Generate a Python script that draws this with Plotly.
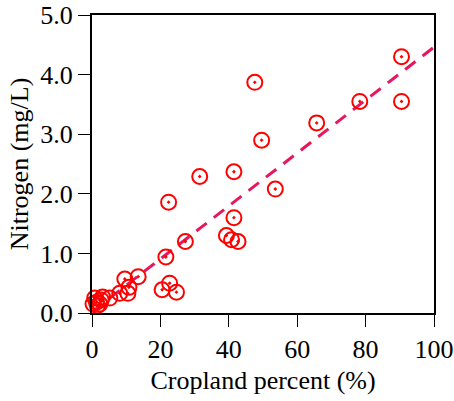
import plotly.graph_objects as go

# Cropland percent (%) and Nitrogen (mg/L)
cropland = [-0.2, 0.3, 0.8, 1.3, 1.6, 2.3, 2.7, 3.1, 5.2,
            8.1, 9.6, 10.5, 10.8, 13.5,
            20.5, 22.7, 24.7, 21.6, 22.4, 27.3, 31.5,
            39.3, 40.8, 42.7, 41.5, 41.5,
            47.6, 49.6, 53.6, 65.7, 78.3, 90.5, 90.5]
nitrogen = [0.22, 0.15, 0.25, 0.18, 0.12, 0.15, 0.22, 0.27, 0.25,
            0.33, 0.57, 0.33, 0.43, 0.61,
            0.39, 0.50, 0.35, 0.94, 1.86, 1.20, 2.29,
            1.30, 1.23, 1.20, 1.60, 2.37,
            3.87, 2.90, 2.08, 3.19, 3.55, 4.30, 3.55]

# Trend line
trend_slope = 0.0444
trend_intercept = 0.02
trend_x = [0, 100]
trend_y = [trend_intercept + trend_slope * x for x in trend_x]

x_ticks = [0, 20, 40, 60, 80, 100]
y_ticks = [0.0, 1.0, 2.0, 3.0, 4.0, 5.0]
y_ticklabels = ["0.0", "1.0", "2.0", "3.0", "4.0", "5.0"]

fig = go.Figure()
fig.add_trace(go.Scatter(
    x=trend_x, y=trend_y, mode="lines",
    line=dict(color="#e8175d", width=3, dash="13px,9px"),
    hoverinfo="skip", showlegend=False))
fig.add_trace(go.Scatter(
    x=cropland, y=nitrogen, mode="markers",
    marker=dict(symbol="circle-open-dot", size=15, color="#ff0000",
                line=dict(color="#ff0000", width=2)),
    showlegend=False, cliponaxis=False))

font_family = "Liberation Serif, Times New Roman, serif"
fig.update_layout(
    width=454, height=401,
    margin=dict(l=92, r=20, t=15, b=88),
    paper_bgcolor="white", plot_bgcolor="white",
    font=dict(family=font_family, size=26, color="black"),
    xaxis=dict(range=[0, 100], tickvals=x_ticks, showgrid=False, zeroline=False,
               showline=True, linecolor="black", linewidth=2, mirror=True,
               ticks="outside", ticklen=12, tickwidth=1, tickcolor="black",
               tickfont=dict(size=26), automargin=False,
               title=dict(text="Cropland percent (%)", font=dict(size=26), standoff=8)),
    yaxis=dict(range=[0, 5], tickvals=y_ticks, ticktext=y_ticklabels, showgrid=False,
               zeroline=False, showline=True, linecolor="black", linewidth=2, mirror=True,
               ticks="outside", ticklen=12, tickwidth=1, tickcolor="black",
               tickfont=dict(size=26), automargin=False,
               title=dict(text="Nitrogen (mg/L)", font=dict(size=26), standoff=4)),
)
fig.write_html("out.html", config={"displayModeBar": False},
               post_script="document.body.style.margin='0';document.body.style.overflow='hidden';")
